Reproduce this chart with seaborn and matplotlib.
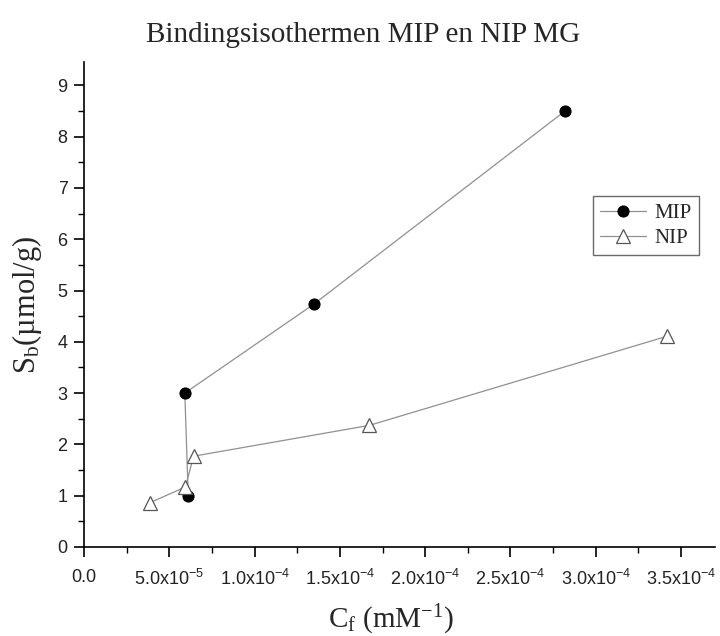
import matplotlib
matplotlib.use("Agg")
import matplotlib.pyplot as plt
import matplotlib.ticker as mticker
import seaborn as sns
import pandas as pd

# Data
mip_x = [6.1e-5, 5.9e-5, 1.345e-4, 2.82e-4]
mip_y = [1.0, 3.0, 4.73, 8.5]
nip_x = [3.83e-5, 5.94e-5, 6.41e-5, 1.672e-4, 3.42e-4]
nip_y = [0.86, 1.17, 1.77, 2.37, 4.11]
series_names = ["MIP", "NIP"]
x_ticks = [0.0, 5e-5, 1e-4, 1.5e-4, 2e-4, 2.5e-4, 3e-4, 3.5e-4]
x_tick_labels = ["0.0", "5.0x10$^{-5}$", "1.0x10$^{-4}$", "1.5x10$^{-4}$", "2.0x10$^{-4}$",
                 "2.5x10$^{-4}$", "3.0x10$^{-4}$", "3.5x10$^{-4}$"]
y_ticks = list(range(0, 10))

sns.set_style("ticks")
plt.rcParams["font.family"] = ["Liberation Sans", "DejaVu Sans"]
plt.rcParams["mathtext.default"] = "regular"

df_mip = pd.DataFrame({"x": mip_x, "y": mip_y})
df_nip = pd.DataFrame({"x": nip_x, "y": nip_y})

fig = plt.figure(figsize=(7.2, 6.36), dpi=100)
ax = fig.add_axes([0.117, 0.140, 0.876, 0.762])

sns.lineplot(data=df_mip, x="x", y="y", sort=False, ax=ax, color="#909090", lw=0.9,
             marker="o", markersize=8, markerfacecolor="black", markeredgecolor="black",
             label=series_names[0])
sns.lineplot(data=df_nip, x="x", y="y", sort=False, ax=ax, color="#909090", lw=0.9,
             marker="^", markersize=10, markerfacecolor="white", markeredgecolor="#555555",
             markeredgewidth=0.9, label=series_names[1])

ax.set_xlim(0, 3.7e-4)
ax.set_ylim(0, 9.45)
ax.set_xticks(x_ticks)
ax.set_xticklabels(x_tick_labels)
ax.set_yticks(y_ticks)
ax.xaxis.set_minor_locator(mticker.MultipleLocator(2.5e-5))
ax.yaxis.set_minor_locator(mticker.MultipleLocator(0.5))
ax.tick_params(axis="both", which="major", direction="out", length=7, width=1.2,
               labelsize=13, color="black", labelcolor="#222222", pad=5)
ax.tick_params(axis="both", which="minor", direction="out", length=4, width=1.0, color="black")
ax.tick_params(axis="x", which="major", pad=9)

for s in ["top", "right"]:
    ax.spines[s].set_visible(False)
for s in ["left", "bottom"]:
    ax.spines[s].set_color("black")
    ax.spines[s].set_linewidth(1.2)

serif = ["Liberation Serif", "DejaVu Serif"]
ax.set_xlabel("C$_f$ (mM$^{-1}$)", fontsize=21, family=serif, labelpad=8)
ax.xaxis.set_label_coords(0.487, -0.115)
ax.set_ylabel("S$_b$(µmol/g)", fontsize=22, family=serif, labelpad=10)
fig.text(0.505, 0.945, "Bindingsisothermen MIP en NIP MG", ha="center", va="center",
         fontsize=21, family=serif)

leg = ax.legend(loc="upper left", bbox_to_anchor=(0.79, 0.745), frameon=True, fancybox=False,
                edgecolor="#444444", prop={"family": serif, "size": 15}, handlelength=2.2,
                borderpad=0.35, labelspacing=0.25, handletextpad=0.4)
leg.get_frame().set_linewidth(1.0)

fig.savefig("out.png", dpi=100, facecolor="white")
